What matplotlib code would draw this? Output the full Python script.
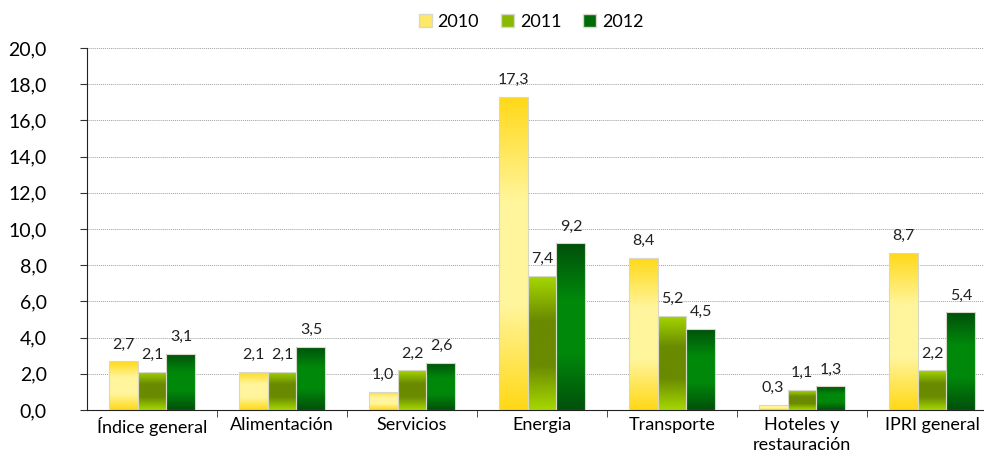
import matplotlib
matplotlib.use("Agg")
import matplotlib.pyplot as plt
import numpy as np
from matplotlib.colors import LinearSegmentedColormap
from matplotlib.patches import Patch

categories = ["Índice general", "Alimentación", "Servicios", "Energia",
              "Transporte", "Hoteles y\nrestauración", "IPRI general"]
series_names = ["2010", "2011", "2012"]
v2010 = [2.7, 2.1, 1.0, 17.3, 8.4, 0.3, 8.7]
v2011 = [2.1, 2.1, 2.2, 7.4, 5.2, 1.1, 2.2]
v2012 = [3.1, 3.5, 2.6, 9.2, 4.5, 1.3, 5.4]
yticks = [0, 2, 4, 6, 8, 10, 12, 14, 16, 18, 20]

FONT = ["Lato", "DejaVu Sans"]
plt.rcParams['font.family'] = FONT

grads = [
    ["#FFD816", "#FFF59C", "#FFF59C", "#FFD816"],
    ["#A6D800", "#6A8A00", "#6A8A00", "#A6D800"],
    ["#00500A", "#00880A", "#00880A", "#00500A"],
]
legend_colors = ["#FFE866", "#8CB800", "#006A08"]

fig = plt.figure(figsize=(9.84, 4.53), dpi=100)
ax = fig.add_axes([87/984, 43/453, 910/984, 362/453])

x = np.arange(len(categories))
w = 0.223
offsets = [-w, 0, w]
all_vals = [v2010, v2011, v2012]
for si, vals in enumerate(all_vals):
    cmap = LinearSegmentedColormap.from_list("g%d" % si, grads[si])
    bars = ax.bar(x + offsets[si], vals, w, facecolor="none",
                  edgecolor="#D8D8C8", linewidth=0.8, zorder=3)
    for b, v in zip(bars, vals):
        x0 = b.get_x()
        img = np.linspace(0, 1, 256).reshape(-1, 1)
        im = ax.imshow(img, cmap=cmap, aspect="auto",
                       extent=[x0, x0 + w, 0, v], origin="lower", zorder=2)
        im.set_clip_path(b)
        ax.annotate(f"{v:.1f}".replace(".", ","), (x0 + w/2, v),
                    xytext=(0, 7), textcoords="offset points",
                    ha="center", va="bottom", fontsize=11.5, color="#222222")

ax.set_xlim(-0.5, len(categories) - 0.5)
ax.set_ylim(0, 20)
ax.set_yticks(yticks)
ax.set_yticklabels([f"{t:.1f}".replace(".", ",") for t in yticks], fontsize=14)
ax.yaxis.grid(True, linestyle=(0, (1, 1)), color="#A0A0A0", linewidth=0.7, zorder=0)
ax.set_axisbelow(True)

ax.set_xticks(x)
ax.set_xticklabels(categories, fontsize=13, linespacing=1.35)
ax.tick_params(axis="x", length=0, pad=5)
ax.set_xticks(np.arange(0.5, len(categories) - 0.5, 1), minor=True)
ax.tick_params(axis="x", which="minor", length=5, direction="out", color="#333333")
ax.tick_params(axis="y", length=5, direction="out", color="#333333", pad=24)

for s in ["top", "right"]:
    ax.spines[s].set_visible(False)
ax.spines["left"].set_color("#222222")
ax.spines["bottom"].set_color("#222222")

handles = [Patch(facecolor=c, edgecolor="#D8D8C8", label=n)
           for c, n in zip(legend_colors, series_names)]
fig.legend(handles=handles, loc="center", bbox_to_anchor=(531/984, 1 - 22/453),
           ncol=3, frameon=False, fontsize=13, handlelength=0.75, handleheight=0.75,
           handletextpad=0.3, columnspacing=1.2)

fig.savefig("out.png", dpi=100)
